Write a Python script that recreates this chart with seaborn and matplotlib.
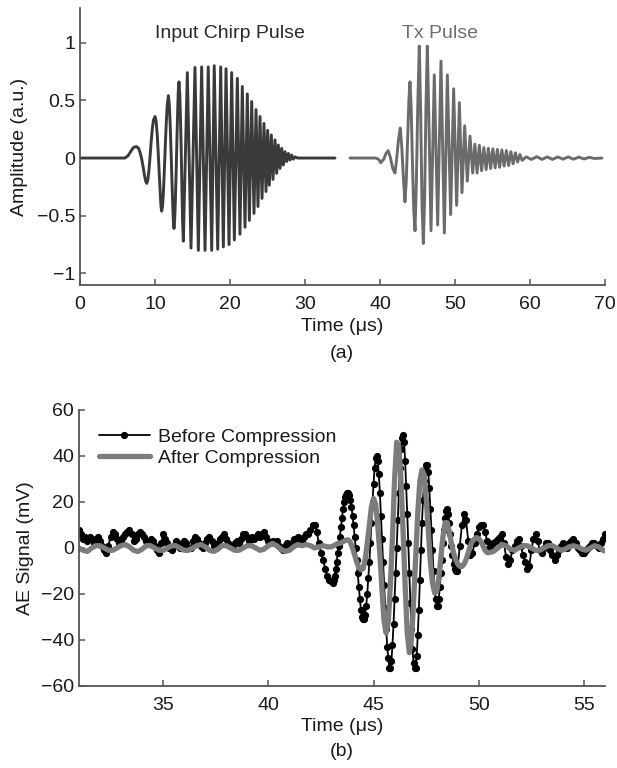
import numpy as np
import pandas as pd
import matplotlib
matplotlib.use("Agg")
import matplotlib.pyplot as plt
import seaborn as sns

# ---------------- Panel (a) data ----------------
chirp_t = [0.0, 5.8, 6.0, 6.4, 6.8, 7.1, 7.5, 7.8, 8.0, 8.2, 8.4, 8.6, 8.75, 8.9, 9.05, 9.2, 9.35, 9.5, 9.65, 9.8,
           10.0, 10.15, 10.3, 10.45, 10.6, 10.72, 10.8, 10.89, 11.0, 11.12, 11.25, 11.38, 11.5, 11.62, 11.78, 11.9,
           12.02, 12.13, 12.25, 12.35, 12.44, 12.53, 12.62, 12.72, 12.82, 12.92, 13.02, 13.1, 13.2, 13.3, 13.4, 13.5,
           13.6, 13.68, 13.78, 14.31, 14.8, 15.33, 15.78, 16.22, 16.67, 17.1, 17.56, 17.9, 18.36, 18.76, 19.11, 19.47,
           19.87, 20.22, 20.58, 20.98, 21.33, 21.64, 22.0, 22.31, 22.58, 22.89, 23.2, 23.47, 23.73, 24.0, 24.27, 24.53,
           24.8, 25.02, 25.24, 25.51, 25.73, 26.0, 26.22, 26.44, 26.67, 26.89, 27.11, 27.33, 27.56, 27.78, 28.0, 28.22,
           28.44, 28.67, 29.0, 34.0]
chirp_a = [0, 0, 0.0, 0.02, 0.06, 0.09, 0.10, 0.085, 0.05, 0.0, -0.07, -0.15, -0.2, -0.22, -0.19, -0.1, 0.02, 0.15, 0.26, 0.33,
           0.36, 0.32, 0.2, 0.02, -0.18, -0.33, -0.42, -0.46, -0.42, -0.3, -0.1, 0.12, 0.3, 0.45, 0.54, 0.47,
           0.3, 0.08, -0.18, -0.38, -0.54, -0.61, -0.54, -0.36, -0.12, 0.15, 0.4, 0.58, 0.66, 0.56, 0.34, 0.05,
           -0.3, -0.55, -0.72, 0.74, -0.78, 0.785, -0.80, 0.79, -0.80, 0.79, -0.80, 0.80, -0.79, 0.79, -0.77, 0.774,
           -0.75, 0.74, -0.71, 0.69, -0.66, 0.62, -0.60, 0.556, -0.54, 0.49, -0.48, 0.42, -0.42, 0.36, -0.35, 0.30,
           -0.29, 0.24, -0.235, 0.20, -0.185, 0.157, -0.133, 0.113, -0.09, 0.084, -0.06, 0.055, -0.03, 0.04, -0.017, 0.026,
           -0.01, 0.01, 0.0, 0.0]

tx_t = [36.0, 39.4, 39.8, 40.1, 40.5, 40.8, 41.1, 41.4, 41.7, 42.0, 42.2, 42.45, 42.7, 42.9, 43.1, 43.33, 43.5, 43.7,
        43.85, 44.0, 44.15, 44.35, 44.5, 44.67, 44.85, 45.05, 45.24, 45.42, 45.6, 45.78, 45.95, 46.13, 46.31, 46.5,
        46.8, 47.24, 47.69, 48.13, 48.58, 48.98, 49.42, 49.82, 50.22, 50.58, 50.93, 51.29, 51.64, 52.0, 52.36, 52.65,
        52.95, 53.25, 53.55, 53.85, 54.15, 54.45, 54.75, 55.05, 55.35, 55.65, 55.95, 56.25, 56.55, 56.85, 57.15, 57.45,
        57.75, 58.05, 58.35, 58.65, 58.95, 59.5, 60.2, 60.9, 61.6, 62.3, 63.0, 63.7, 64.4, 65.1, 65.8, 66.5, 67.2,
        67.9, 68.6, 69.6]
tx_a = [0, 0, -0.01, -0.04, -0.01, 0.04, 0.064, 0.0, -0.09, -0.13, -0.02, 0.15, 0.26, 0.1, -0.15, -0.38, -0.2, 0.2,
        0.5, 0.66, 0.45, -0.1, -0.45, -0.63, -0.2, 0.5, 0.97, 0.4, -0.4, -0.74, -0.35, 0.45, 0.97, 0.4,
        -0.63, 0.72, -0.58, 0.84, -0.65, 0.72, -0.49, 0.6, -0.41, 0.48, -0.3, 0.28, -0.2, 0.19, -0.13, 0.12,
        -0.13, 0.11, -0.11, 0.09, -0.1, 0.085, -0.09, 0.08, -0.085, 0.075, -0.08, 0.07, -0.07, 0.065, -0.065, 0.055,
        -0.05, 0.045, -0.035, 0.03, -0.02, 0.01, -0.012, 0.012, -0.012, 0.01, -0.012, 0.01, -0.01, 0.01, -0.01, 0.008,
        -0.008, 0.006, -0.004, 0.0]

# ---------------- Panel (b) data ----------------
# Before compression: three sampled stretches (start time, step, values in mV)
before_noise_start, before_noise_step = 31.0, 0.1
before_noise = [8, 6, 4, 5, 3, 5, 4, 2, 4, 5,
                3, 1, -1, -2, 1, 5, 7, 6, 4, 2,
                3, 5, 6, 7, 8, 6, 3, 4, 6, 7,
                6, 5, 3, 2, 4, 3, 1, -1, -2, 2,
                6, 4, 2, 0, -1, 1, 3, 2, 0, 1,
                3, 2, 0, 0, 3, 5, 4, 2, 1, 0,
                2, 4, 5, 3, 1, 0, 2, 4, 5, 6,
                4, 2, 1, 1, 2, 3, 2, 4, 6, 6,
                5, 3, 5, 4, 5, 6, 5, 6, 7, 5,
                3, 2, 3, 2, 3, 1, 0, -1, 1, 2,
                1, 2, 4, 3, 5, 4, 3, 5, 6, 6,
                8, 10, 10, 7, 2, -2, -5, -9, -12, -14]
before_burst_start, before_burst_step = 43.0, 0.05
before_burst = [-14.5, -15, -14, -12, -9, -6, -2, 1, 5, 9,
                13, 17, 20, 22, 23, 24, 24, 23, 21, 18,
                14, 10, 5, 0, -5, -11, -17, -22, -27, -30,
                -31, -31, -29, -25, -20, -13, -6, 2, 11, 20,
                28, 35, 39, 40, 38, 32, 24, 14, 4, -6,
                -16, -26, -35, -43, -48, -52, -52, -49, -42, -33,
                -22, -11, 0, 12, 24, 35, 43, 48, 49, 46,
                38, 27, 15, 2, -11, -24, -35, -44, -50, -52,
                -52, -47, -38, -27, -14, -1, 11, 21, 29, 34,
                36, 36, 33, 26, 17, 8, -1, -10, -17, -22,
                -25, -25, -22, -17, -11, -5, 2, 8, 13, 16,
                17, 15, 11, 6, 1, -3, -7, -9, -10, -10,
                -8]
before_tail_start, before_tail_step = 49.1, 0.1
before_tail = [1, 10, 15, 12, 3, -3, -2, 2, 6, 9,
               10, 10, 7, 3, 0, 1, 2, 3, 4, 5,
               6, 2, -4, -7, -5, -1, 1, 3, 4, 1,
               -3, -6, -9, -8, -1, 4, 6, 3, -1, -2,
               0, 2, 2, -1, -3, -5, -3, -1, 1, 2,
               1, 0, 2, 3, 4, 2, 0, -1, -2, -2,
               -1, 0, 1, 2, 2, 1, 0, 2, 4, 6]

# After compression
after_pre_start, after_pre_step = 31.0, 0.2
after_pre = [0, -1, -1.5, 0, 1, 1, 0, -1, -1, 0,
             1, 1.5, 0.5, -1, -1.5, -0.5, 1, 1, 0, -1,
             -1, 0, 1, 1, 0, -1, -1, 0, 1, 1.5,
             0.5, -1, -1.5, -0.5, 1, 1, 0, -1, -1, 0,
             1, 1, 0, -1, -0.5, 1, 2, 1, -0.5, -1.5,
             -1, 0.5, 1.5, 1, 1.5, 1, 0, 0.5, 1, 0.5,
             0.5]
after_burst_start, after_burst_step = 43.1, 0.1
after_burst = [1, 1.5, 2, 2, 2.5, 3, 3.5, 3.5, 2.5, 0,
               -3, -6, -8.5, -9.5, -9, -5, 2, 10, 18, 21.5,
               19, 10, -3, -18, -32, -37, -32, -16, 5, 30,
               46, 44, 30, 8, -16, -37, -45.5, -40, -24, -4,
               15, 29, 34, 32, 22, 8, -6, -15, -19.5, -19,
               -13, -4, 5, 11, 11, 7, 2, -2, -5, -7,
               -8, -8, -7, -5, -2, 1, 3, 4, 4.5, 4,
               3, 1, -1, -2, -2]
after_tail_start, after_tail_step = 50.7, 0.2
after_tail = [-1.5, 0, 1.5, 1, -0.5, -1, 0, 1, 1, 0,
              -1, -1, 0, 1, 1, 0, -1, -0.5, 0.5, 1,
              0.5, -0.5, -1, 0, 1, 0.5, -1, -1.5]

legend_labels = ["Before Compression", "After Compression"]
panel_a_texts = ["Input Chirp Pulse", "Tx Pulse"]


def times(start, step, vals):
    return np.round(start + step * np.arange(len(vals)), 4)


assert len(chirp_t) == len(chirp_a), (len(chirp_t), len(chirp_a))
assert len(tx_t) == len(tx_a), (len(tx_t), len(tx_a))

before_t = np.concatenate([times(before_noise_start, before_noise_step, before_noise),
                           times(before_burst_start, before_burst_step, before_burst),
                           times(before_tail_start, before_tail_step, before_tail)])
before_v = np.concatenate([before_noise, before_burst, before_tail]).astype(float)
after_t = np.concatenate([times(after_pre_start, after_pre_step, after_pre),
                          times(after_burst_start, after_burst_step, after_burst),
                          times(after_tail_start, after_tail_step, after_tail)])
after_v = np.concatenate([after_pre, after_burst, after_tail]).astype(float)

# ---------------- Style ----------------
sns.set_style("ticks")
plt.rcParams['font.family'] = ['Liberation Sans', 'DejaVu Sans']
plt.rcParams['xtick.direction'] = 'in'
plt.rcParams['ytick.direction'] = 'in'
FS = 14
AX_COL = '#555555'
TXT_COL = '#1a1a1a'

fig = plt.figure(figsize=(6.17, 7.68), dpi=100)
W, H = 617, 768
ax1 = fig.add_axes([80 / W, 1 - 285 / H, 525 / W, 277 / H])
ax2 = fig.add_axes([79 / W, 1 - 686 / H, 526 / W, 276 / H])

# Panel (a)
sns.lineplot(x=chirp_t, y=chirp_a, ax=ax1, color='#3a3a3a', linewidth=2.1, sort=False)
sns.lineplot(x=tx_t, y=tx_a, ax=ax1, color='#6b6b6b', linewidth=2.1, sort=False)
ax1.set_xlim(0, 70)
ax1.set_ylim(-1.1, 1.3)
ax1.set_xticks([0, 10, 20, 30, 40, 50, 60, 70])
ax1.set_yticks([-1, -0.5, 0, 0.5, 1])
ax1.set_yticklabels(['\u22121', '\u22120.5', '0', '0.5', '1'])
ax1.set_xlabel('Time (\u03bcs)', fontsize=FS, color=TXT_COL, labelpad=3.5)
ax1.set_ylabel('Amplitude (a.u.)', fontsize=FS, color=TXT_COL, labelpad=6)
ax1.text(20, 1.075, panel_a_texts[0], fontsize=FS, color='#2a2a2a', ha='center', va='center')
ax1.text(48, 1.075, panel_a_texts[1], fontsize=FS, color='#6e6e6e', ha='center', va='center')

# Panel (b)
sns.lineplot(x=before_t, y=before_v, ax=ax2, color='black', linewidth=1.3, marker='o',
             markersize=5.2, markeredgewidth=0, sort=False, label=legend_labels[0])
sns.lineplot(x=after_t, y=after_v, ax=ax2, color='#7c7c7c', linewidth=3.8, sort=False,
             label=legend_labels[1])
ax2.set_xlim(31, 56)
ax2.set_ylim(-60, 60)
ax2.set_xticks([35, 40, 45, 50, 55])
ax2.set_yticks([-60, -40, -20, 0, 20, 40, 60])
ax2.set_yticklabels(['\u221260', '\u221240', '\u221220', '0', '20', '40', '60'])
ax2.set_xlabel('Time (\u03bcs)', fontsize=FS, color=TXT_COL, labelpad=3)
ax2.set_ylabel('AE Signal (mV)', fontsize=FS, color=TXT_COL, labelpad=5)
leg = ax2.legend(loc='upper left', bbox_to_anchor=(0.015, 0.975), frameon=False, fontsize=FS,
                 handlelength=2.65, handletextpad=0.4, labelspacing=0.18, borderaxespad=0.2)
for t in leg.get_texts():
    t.set_color(TXT_COL)

for ax in (ax1, ax2):
    sns.despine(ax=ax)
    for s in ('left', 'bottom'):
        ax.spines[s].set_color(AX_COL)
        ax.spines[s].set_linewidth(1.3)
    ax.tick_params(axis='both', labelsize=FS, colors=AX_COL, labelcolor=TXT_COL,
                   length=4, width=1.1, direction='in')
    ax.tick_params(axis='x', pad=8)

fig.text(342 / W, 1 - 354 / H, '(a)', fontsize=FS, color=TXT_COL, ha='center', va='center')
fig.text(342 / W, 1 - 752 / H, '(b)', fontsize=FS, color=TXT_COL, ha='center', va='center')

fig.savefig('out.png', dpi=100, facecolor='white')
